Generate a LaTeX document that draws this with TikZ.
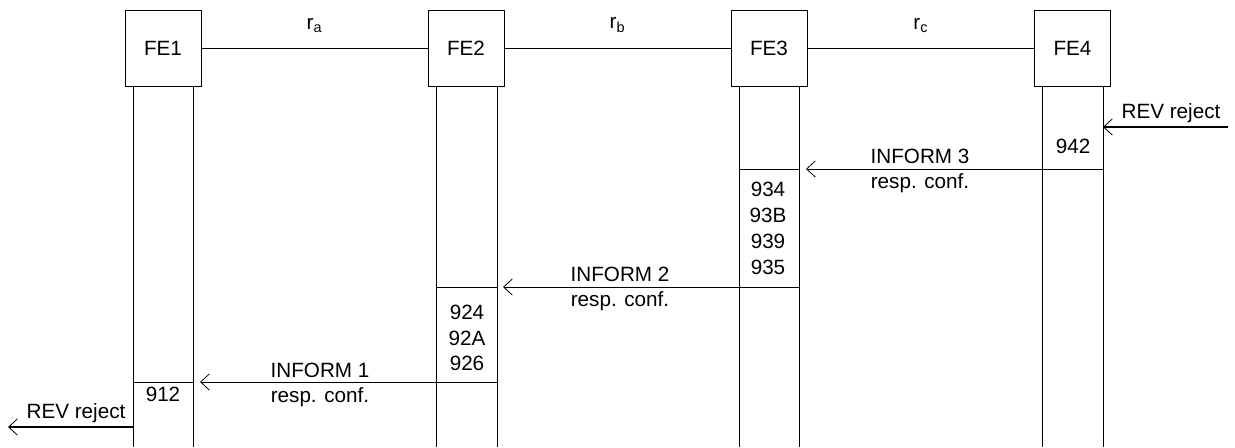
\documentclass[tikz,border=0pt]{standalone}
\usepackage{fontspec}
\setmainfont{Liberation Sans}
\usetikzlibrary{arrows.meta}
\begin{document}
\begin{tikzpicture}[x=0.75pt,y=-0.75pt,
  fe/.style={draw,line width=0.75pt,minimum width=57pt,minimum height=57pt,inner sep=0pt,font=\fontsize{15.5}{18}\selectfont},
  lbl/.style={font=\fontsize{15.5}{18}\selectfont,inner sep=0pt},
  life/.style={line width=0.75pt},
  msg/.style={line width=0.75pt,-{Straight Barb[length=6.5pt,width=12pt,line width=0.6pt]}},
  ext/.style={line width=1.4pt,-{Straight Barb[length=6.5pt,width=12pt,line width=0.6pt]}}
]
\useasboundingbox (0,0) rectangle (1235,447);
% entity boxes
\node[fe] (fe1) at (163,48) {FE1};
\node[fe] (fe2) at (466,48) {FE2};
\node[fe] (fe3) at (769,48) {FE3};
\node[fe] (fe4) at (1072.5,48) {FE4};
\draw[life] (fe1) -- (fe2) node[lbl,midway,above=11pt] {r\textsubscript{a}};
\draw[life] (fe2) -- (fe3) node[lbl,midway,above=11pt] {r\textsubscript{b}};
\draw[life] (fe3) -- (fe4) node[lbl,midway,above=11pt] {r\textsubscript{c}};
% lifelines
\coordinate (l1a) at (133,86); \coordinate (l1b) at (193,86);
\coordinate (l2a) at (436,86); \coordinate (l2b) at (497,86);
\coordinate (l3a) at (739,86); \coordinate (l3b) at (799,86);
\coordinate (l4a) at (1042,86); \coordinate (l4b) at (1103,86);
\foreach \c in {l1a,l1b,l2a,l2b,l3a,l3b,l4a,l4b}
  \draw[life] (\c) -- (\c |- 0,447);
% REV reject at FE4
\coordinate (r4s) at (1228,127);
\coordinate (r4e) at (1103,127);
\draw[ext] (r4s) -- (r4e);
\node[lbl] (rev4) at (1171,113) {REV reject};
\node[lbl] (n942) at (1073,146) {942};
% INFORM 3
\coordinate (i3s) at (1103,169);
\coordinate (i3e) at (806,169);
\coordinate (i3a) at (739,169);
\draw[msg] (i3s) -- (i3e);
\draw[life] (i3a) -- (l3b |- i3a);
\node[lbl] (inf3) at (920,156) {INFORM 3};
\node[lbl] (rc3) at (920,183) {resp. conf.};
\node[lbl] (n934) at (768,189) {934};
\node[lbl] (n93B) at (768,215) {93B};
\node[lbl] (n939) at (768,241) {939};
\node[lbl] (n935) at (768,267) {935};
% INFORM 2
\coordinate (i2s) at (799,287);
\coordinate (i2e) at (503,287);
\coordinate (i2a) at (436,287);
\draw[msg] (i2s) -- (i2e);
\draw[life] (i2a) -- (l2b |- i2a);
\node[lbl] (inf2) at (620,274) {INFORM 2};
\node[lbl] (rc2) at (620,301) {resp. conf.};
\node[lbl] (n924) at (467,312) {924};
\node[lbl] (n92A) at (467,338) {92A};
\node[lbl] (n926) at (467,363) {926};
% INFORM 1
\coordinate (i1s) at (497,382);
\coordinate (i1e) at (200,382);
\coordinate (i1a) at (133,382);
\draw[msg] (i1s) -- (i1e);
\draw[life] (i1a) -- (l1b |- i1a);
\node[lbl] (inf1) at (320,370) {INFORM 1};
\node[lbl] (rc1) at (320,397) {resp. conf.};
\node[lbl] (n912) at (163,394) {912};
% REV reject at FE1
\coordinate (r1s) at (133,427);
\coordinate (r1e) at (8,427);
\draw[ext] (r1s) -- (r1e);
\node[lbl] (rev1) at (76,413) {REV reject};
\end{tikzpicture}
\end{document}
